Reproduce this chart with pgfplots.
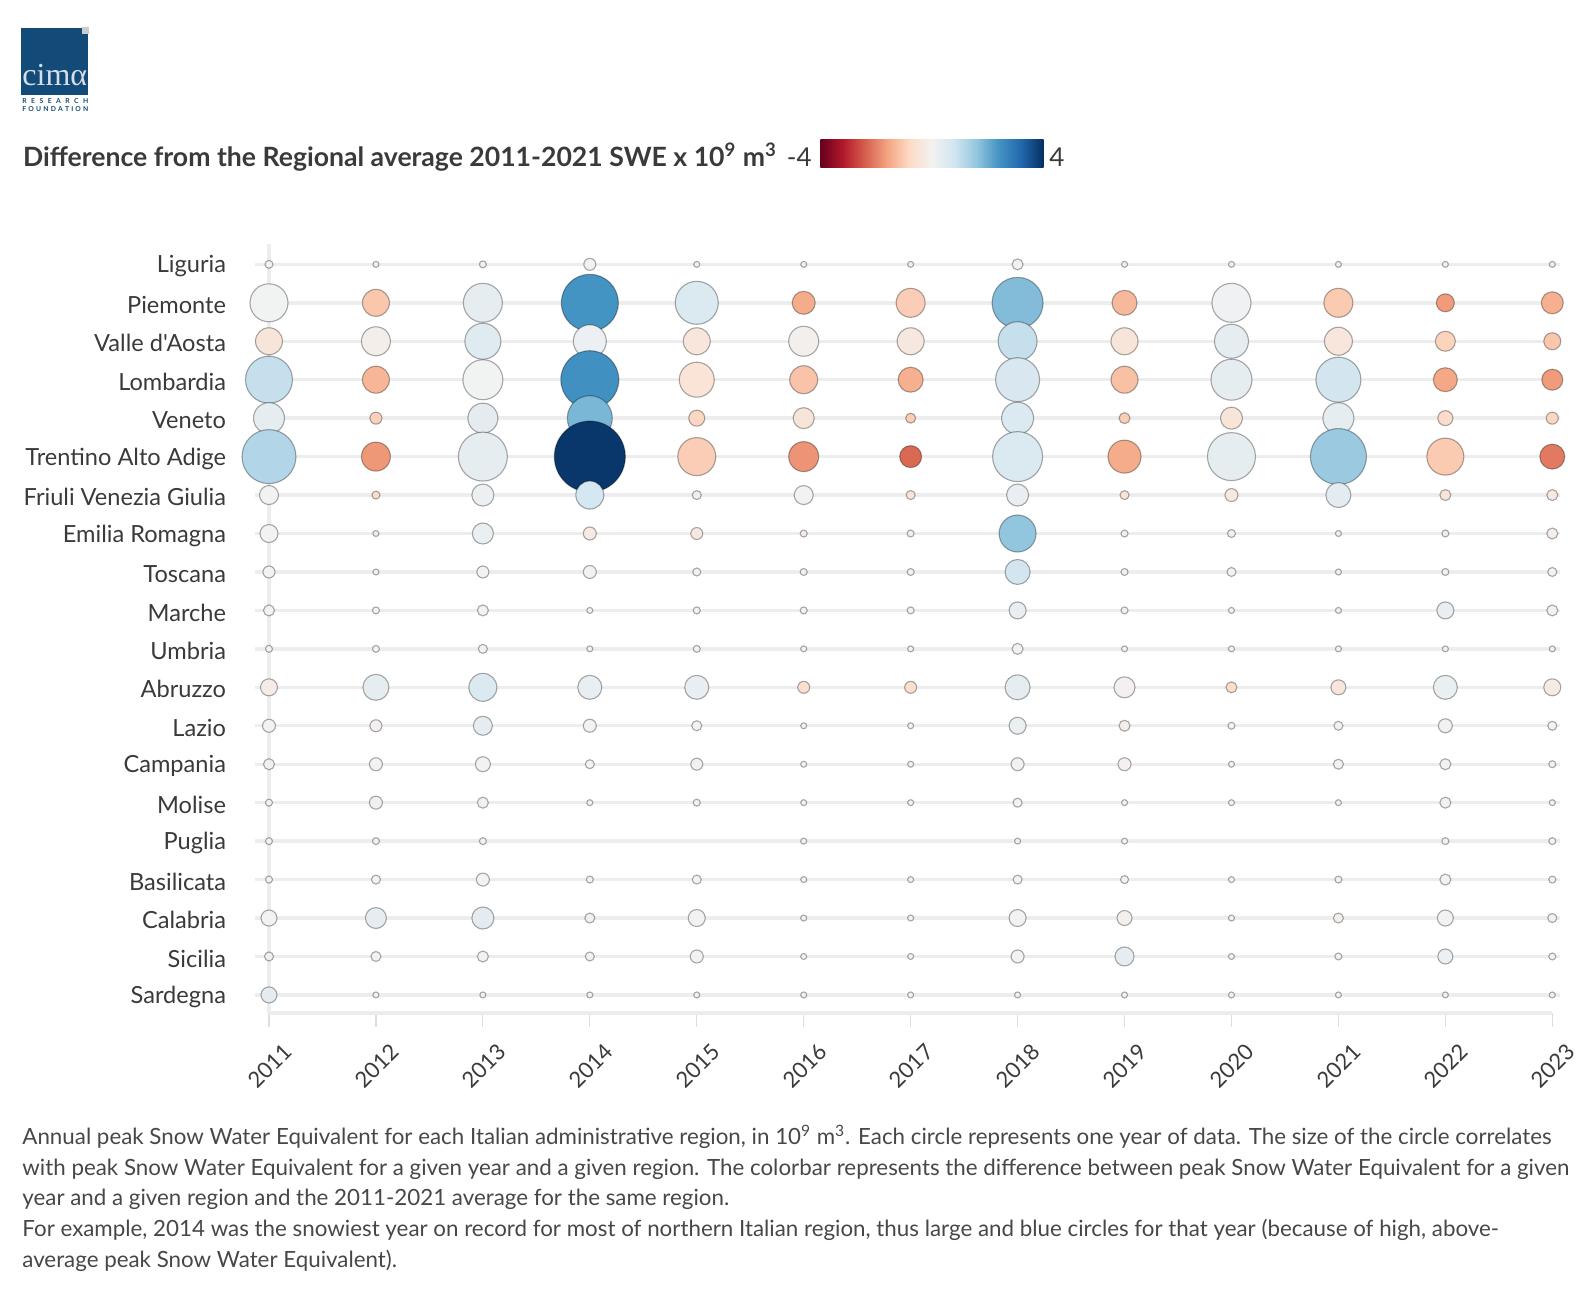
\documentclass[border=0pt]{standalone}
\usepackage{fontspec}
\setmainfont{Lato}
\newfontfamily\lato{Lato}
\newfontfamily\logoserif{Liberation Serif}
\usepackage{pgfplots}
\pgfplotsset{compat=1.18}
\usepackage{pgfplotstable}

\definecolor{txt}{HTML}{3A3A3A}
\definecolor{captxt}{HTML}{474747}
\definecolor{gridc}{HTML}{EDEDED}
\definecolor{logob}{HTML}{124A78}
\definecolor{logotxt}{HTML}{D3DEE9}
\definecolor{cb0}{RGB}{103,0,31}
\definecolor{cb1}{RGB}{178,24,43}
\definecolor{cb2}{RGB}{214,96,77}
\definecolor{cb3}{RGB}{244,165,130}
\definecolor{cb4}{RGB}{253,219,199}
\definecolor{cb5}{RGB}{242,242,242}
\definecolor{cb6}{RGB}{209,229,240}
\definecolor{cb7}{RGB}{146,197,222}
\definecolor{cb8}{RGB}{67,147,195}
\definecolor{cb9}{RGB}{33,102,172}
\definecolor{cb10}{RGB}{5,48,97}
\pgfdeclarehorizontalshading{rdbu}{100bp}{color(0bp)=(cb0); color(25bp)=(cb0); color(30bp)=(cb1); color(35bp)=(cb2); color(40bp)=(cb3); color(45bp)=(cb4); color(50bp)=(cb5); color(55bp)=(cb6); color(60bp)=(cb7); color(65bp)=(cb8); color(70bp)=(cb9); color(75bp)=(cb10); color(100bp)=(cb10)}

% x = year, y = row (19 = Liguria ... 0 = Sardegna), d = circle diameter (px), c = difference from average
\pgfplotstableread{
x y d c
2011 19 8 0
2012 19 6 -0.1
2013 19 7 -0.1
2014 19 12 0.05
2015 19 6 -0.1
2016 19 6 -0.1
2017 19 6 -0.1
2018 19 11 0.05
2019 19 6 -0.1
2020 19 6 -0.1
2021 19 6 -0.1
2022 19 6 -0.1
2023 19 6 -0.1
2011 18 38 0.02
2012 18 27 -1.1
2013 18 39 0.3
2014 18 57 2.4
2015 18 43 0.57
2016 18 23 -1.5
2017 18 29 -1.0
2018 18 51 1.75
2019 18 25 -1.3
2020 18 39 0.05
2021 18 29 -1.05
2022 18 18 -1.7
2023 18 22 -1.45
2011 17 27 -0.45
2012 17 29 -0.15
2013 17 36 0.45
2014 17 33 0.15
2015 17 27 -0.4
2016 17 30 -0.1
2017 17 27 -0.35
2018 17 39 0.95
2019 17 27 -0.45
2020 17 34 0.3
2021 17 28 -0.4
2022 17 20 -0.9
2023 17 17 -1.1
2011 16 47 0.95
2012 16 27 -1.35
2013 16 40 0.02
2014 16 58 2.45
2015 16 35 -0.5
2016 16 28 -1.15
2017 16 25 -1.45
2018 16 44 0.6
2019 16 27 -1.2
2020 16 41 0.3
2021 16 45 0.75
2022 16 24 -1.55
2023 16 21 -1.7
2011 15 31 0.3
2012 15 12 -0.95
2013 15 30 0.35
2014 15 45 1.85
2015 15 16 -0.85
2016 15 21 -0.45
2017 15 10 -1.0
2018 15 32 0.55
2019 15 11 -1.0
2020 15 22 -0.45
2021 15 31 0.3
2022 15 15 -0.75
2023 15 12 -0.85
2011 14 54 1.2
2012 14 29 -1.75
2013 14 49 0.3
2014 14 71 3.9
2015 14 38 -1.0
2016 14 30 -1.8
2017 14 22 -2.3
2018 14 50 0.55
2019 14 33 -1.5
2020 14 48 0.3
2021 14 56 1.5
2022 14 37 -1.05
2023 14 25 -2.1
2011 13 19 0.02
2012 13 8 -0.7
2013 13 22 0.15
2014 13 28 0.7
2015 13 9 -0.15
2016 13 19 0
2017 13 9 -0.5
2018 13 22 0.25
2019 13 9 -0.5
2020 13 13 -0.3
2021 13 25 0.35
2022 13 11 -0.45
2023 13 11 -0.3
2011 12 18 0
2012 12 6 -0.2
2013 12 21 0.2
2014 12 13 -0.25
2015 12 12 -0.3
2016 12 7 -0.2
2017 12 7 -0.1
2018 12 37 1.6
2019 12 7 -0.1
2020 12 8 -0.1
2021 12 6 -0.1
2022 12 7 -0.1
2023 12 11 -0.15
2011 11 12 0
2012 11 6 0
2013 11 12 0
2014 11 13 0
2015 11 8 0
2016 11 7 -0.05
2017 11 7 -0.05
2018 11 25 0.75
2019 11 7 -0.05
2020 11 9 0
2021 11 6 -0.05
2022 11 7 -0.05
2023 11 9 0
2011 10 11 0
2012 10 7 0
2013 10 11 0
2014 10 6 0
2015 10 7 0
2016 10 7 0
2017 10 7 0
2018 10 17 0.25
2019 10 7 0
2020 10 6 0
2021 10 6 0
2022 10 17 0.25
2023 10 11 0.05
2011 9 7 0
2012 9 7 0
2013 9 9 0
2014 9 6 0
2015 9 7 0
2016 9 6 0
2017 9 6 0
2018 9 11 0.05
2019 9 6 0
2020 9 6 0
2021 9 6 0
2022 9 6 0
2023 9 6 0
2011 8 17 -0.2
2012 8 26 0.3
2013 8 28 0.55
2014 8 24 0.25
2015 8 24 0.25
2016 8 12 -0.65
2017 8 12 -0.65
2018 8 25 0.3
2019 8 21 -0.05
2020 8 11 -0.7
2021 8 15 -0.4
2022 8 24 0.2
2023 8 17 -0.25
2011 7 13 0
2012 7 12 -0.05
2013 7 19 0.3
2014 7 13 0
2015 7 10 0
2016 7 6 0
2017 7 6 0
2018 7 17 0.2
2019 7 11 -0.15
2020 7 7 0
2021 7 9 0
2022 7 14 0.05
2023 7 9 0
2011 6 11 -0.1
2012 6 13 0
2013 6 15 0
2014 6 9 0
2015 6 12 0.05
2016 6 6 0
2017 6 6 0
2018 6 13 0.05
2019 6 13 -0.05
2020 6 6 0
2021 6 10 0
2022 6 11 0
2023 6 7 0
2011 5 7 0
2012 5 13 0.1
2013 5 11 0
2014 5 6 0
2015 5 7 0
2016 5 6 0
2017 5 6 0
2018 5 9 0
2019 5 6 0
2020 5 6 0
2021 5 6 0
2022 5 11 0
2023 5 6 0
2011 4 7 0
2012 4 7 0
2013 4 7 0
2016 4 6 0
2018 4 6 0
2019 4 6 0
2022 4 7 0
2023 4 7 0
2011 3 7 0
2012 3 9 0
2013 3 13 0
2014 3 7 0
2015 3 9 0
2016 3 6 0
2017 3 6 0
2018 3 9 0
2019 3 8 0
2020 3 6 0
2021 3 7 0
2022 3 11 0
2023 3 7 0
2011 2 16 0
2012 2 21 0.3
2013 2 22 0.35
2014 2 10 -0.1
2015 2 17 0
2016 2 6 0
2017 2 6 0
2018 2 17 0
2019 2 15 -0.1
2020 2 6 0
2021 2 10 -0.15
2022 2 16 0
2023 2 9 0
2011 1 9 -0.1
2012 1 10 0
2013 1 11 0
2014 1 9 0
2015 1 13 0
2016 1 6 0
2017 1 6 0
2018 1 13 0
2019 1 19 0.3
2020 1 6 0
2021 1 7 0
2022 1 15 0.15
2023 1 7 0
2011 0 16 0.35
2012 0 6 0
2013 0 6 0
2014 0 6 0
2015 0 6 0
2016 0 6 0
2017 0 6 0
2018 0 6 0
2019 0 6 0
2020 0 6 0
2021 0 6 0
2022 0 6 0
2023 0 6 0
}\swedata

\begin{document}
\begin{tikzpicture}[x=1pt,y=1pt]
\path[use as bounding box] (0,0) rectangle (796,646);
% logo
\fill[logob] (10.5,598.5) rectangle (44,632);
\fill[black!20] (41.2,629) rectangle (44.3,632.3);
\node[anchor=base west, inner sep=0pt, text=logotxt, font=\logoserif\fontsize{16}{16}\selectfont] at (11,603) {cimα};
\node[anchor=base west, inner sep=0pt, text=logob, font=\lato\fontsize{3.4}{4}\selectfont\bfseries] at (11,594.3) {\makebox[33pt][s]{R\hfill E\hfill S\hfill E\hfill A\hfill R\hfill C\hfill H}};
\node[anchor=base west, inner sep=0pt, text=logob, font=\lato\fontsize{3.4}{4}\selectfont\bfseries] at (11,590) {\makebox[33pt][s]{F\hfill O\hfill U\hfill N\hfill D\hfill A\hfill T\hfill I\hfill O\hfill N}};
% colour legend
\node[anchor=base west, inner sep=0pt, text=txt, font=\lato\fontsize{13.3}{16}\selectfont\bfseries] at (11.35,562.65) {Difference from the Regional average 2011-2021 SWE x 10\textsuperscript{9} m\textsuperscript{3}};
\shade[shading=rdbu] (410.2,562.25) rectangle (521.8,576);
\node[anchor=base east, inner sep=0pt, text=txt, font=\lato\fontsize{13}{16}\selectfont] at (406,562.65) {-4};
\node[anchor=base west, inner sep=0pt, text=txt, font=\lato\fontsize{13}{16}\selectfont] at (524.5,562.65) {4};

\begin{axis}[
  at={(134.5pt,139.5pt)}, anchor=south west,
  scale only axis, width=641.65pt, height=384.7pt,
  xmin=2011, xmax=2023, ymin=-0.47, ymax=19.54,
  clip=false,
  axis x line=bottom, axis y line=left,
  axis line style={-},
  x axis line style={-, draw=gridc, line width=2.2pt},
  y axis line style={-, draw=gridc, line width=1.7pt},
  xtick={2011,2012,2013,2014,2015,2016,2017,2018,2019,2020,2021,2022,2023},
  ytick={0,1,2,3,4,5,6,7,8,9,10,11,12,13,14,15,16,17,18,19},
  yticklabels={Sardegna,Sicilia,Calabria,Basilicata,Puglia,Molise,Campania,Lazio,Abruzzo,Umbria,Marche,Toscana,Emilia Romagna,Friuli Venezia Giulia,Trentino Alto Adige,Veneto,Lombardia,Valle d'Aosta,Piemonte,Liguria},
  tick align=outside,
  major tick length=7pt,
  x tick style={draw=black!13, line width=0.6pt},
  y tick style={draw=none},
  /pgf/number format/assume math mode=true,
  x tick label style={font=\lato\fontsize{11}{12}\selectfont, text=txt, rotate=45, anchor=east, inner sep=0pt, xshift=-0.5pt, yshift=-14pt, /pgf/number format/1000 sep={}},
  y tick label style={font=\lato\fontsize{11.8}{13}\selectfont, text=txt, anchor=east, inner sep=0pt, xshift=-14.3pt, yshift=-1pt},
  colormap={rdbu}{rgb255(0pt)=(103,0,31) rgb255(1pt)=(178,24,43) rgb255(2pt)=(214,96,77) rgb255(3pt)=(244,165,130) rgb255(4pt)=(253,219,199) rgb255(5pt)=(242,242,242) rgb255(6pt)=(209,229,240) rgb255(7pt)=(146,197,222) rgb255(8pt)=(67,147,195) rgb255(9pt)=(33,102,172) rgb255(10pt)=(5,48,97)},
  point meta min=-4, point meta max=4,
]
\pgfplotsinvokeforeach{0,1,2,3,4,5,6,7,8,9,10,11,12,13,14,15,16,17,18,19}{
  \draw[gridc, line width=1.7pt] (axis cs:2010.87,#1) -- (axis cs:2023.07,#1);
}
\addplot[scatter, only marks, mark=*, scatter src=explicit,
  scatter/use mapped color={draw=black, fill=mapped color},
  visualization depends on={\thisrow{d}/4 \as \rad},
  scatter/@pre marker code/.append style={/tikz/mark size=\rad},
  mark options={line width=0.55pt, draw opacity=0.33}]
  table[x=x, y=y, meta=c] {\swedata};
\end{axis}

% caption
\begin{scope}[every node/.style={anchor=base west, inner sep=0pt, text=captxt, font=\lato\fontsize{11.17}{13}\selectfont}]
\node at (11,74) {Annual peak Snow Water Equivalent for each Italian administrative region, in 10\textsuperscript{9} m\textsuperscript{3}. Each circle represents one year of data. The size of the circle correlates};
\node at (11,58.5) {with peak Snow Water Equivalent for a given year and a given region. The colorbar represents the difference between peak Snow Water Equivalent for a given};
\node at (11,43) {year and a given region and the 2011-2021 average for the same region.};
\node at (11,27.5) {For example, 2014 was the snowiest year on record for most of northern Italian region, thus large and blue circles for that year (because of high, above-};
\node at (11,12.5) {average peak Snow Water Equivalent).};
\end{scope}
\end{tikzpicture}
\end{document}
